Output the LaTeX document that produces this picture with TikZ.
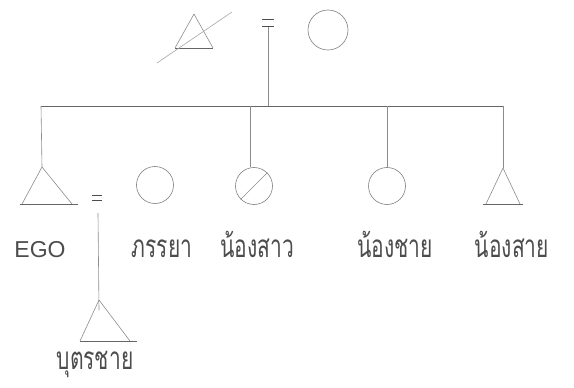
\documentclass[tikz,border=0pt]{standalone}
\usepackage{fontspec}
\newfontfamily\thaifont[Script=Thai]{Loma}
\setmainfont{Liberation Sans}
\newcommand{\tlab}[1]{\scalebox{1}[1.5]{\thaifont\fontsize{21}{24}\selectfont #1}}
\begin{document}
\begin{tikzpicture}[x=1pt,y=-1pt,
  ln/.style={draw=black!45,line width=0.6pt},
  bar/.style={draw=black!60,line width=0.9pt},
  base/.style={draw=black!60,line width=0.9pt},
  eqbar/.style={draw=black!70,line width=1.4pt},
  circ/.style={circle,draw=black!50,line width=0.6pt,minimum size=37pt,inner sep=0pt},
  lbl/.style={text=black!70,inner sep=0pt,anchor=base},
  eq/.style={inner sep=0pt,minimum width=12pt,minimum height=7pt}]
\useasboundingbox (0,0) rectangle (574,388);
% top generation
\coordinate (fa) at (194,14);
\draw[ln] (fa) -- ++(-19,34) coordinate (faL);
\draw[ln] (fa) -- ++(19,34) coordinate (faR);
\draw[base] (faL) -- (faR);
\coordinate (s1) at (157,63);
\coordinate (s2) at (232,12);
\draw[ln,draw=black!35] (s1) -- (s2);
\node[eq] (eqtop) at (268,23) {};
\draw[eqbar] (eqtop.north west) -- (eqtop.north east);
\draw[eqbar] (eqtop.south west) -- (eqtop.south east);
\node[circ,minimum size=40pt] (mo) at (328,30) {};
% sibling bar
\coordinate (j) at (268,106);
\coordinate (bl) at (41,106);
\coordinate (br) at (503,106);
\draw[ln] (eqtop.south) -- (j);
\draw[bar] (bl) -- (br);
% EGO
\coordinate (ego) at (42,167);
\draw[ln] (bl) -- (ego);
\draw[ln] (ego) -- ++(-20,37) coordinate (egoL);
\draw[ln] (ego) -- ++(30,37) coordinate (egoR);
\draw[base] ([xshift=-2pt]egoL) -- ([xshift=6pt]egoR);
% wife
\node[circ] (wife) at (155,185) {};
\node[eq,minimum width=9pt,minimum height=5pt] (eqego) at (97,198) {};
\draw[eqbar,line width=1.2pt] (eqego.north west) -- (eqego.north east);
\draw[eqbar,line width=1.2pt] (eqego.south west) -- (eqego.south east);
% son
\coordinate (sonup) at (98,213);
\coordinate (son) at (99,300);
\draw[ln] (sonup) -- ([yshift=-10pt]son);
\draw[ln] (son) -- ++(-19,41) coordinate (sonL);
\draw[ln] (son) -- ++(31,41) coordinate (sonR);
\draw[base] (sonL) -- ([xshift=7pt]sonR);
% younger sister
\coordinate (b2) at (250,106);
\node[circ] (sis) at (254,186) {};
\draw[ln] (b2) -- (sis.north -| b2);
\draw[ln] (sis.225) -- (sis.45);
% brother
\coordinate (b3) at (387,106);
\node[circ] (bro) at (387,186) {};
\draw[ln] (b3) -- (bro.north);
% right triangle
\coordinate (rt) at (503,168);
\draw[ln] (br) -- (rt);
\draw[ln] (rt) -- ++(-17,36) coordinate (rtL);
\draw[ln] (rt) -- ++(17,36) coordinate (rtR);
\draw[base] ([xshift=-3pt]rtL) -- ([xshift=3pt]rtR);
% labels
\node[lbl,font=\fontsize{23}{26}\selectfont] (tego) at (40,257) {EGO};
\node[lbl] (twife) at (162,257) {\tlab{ภรรยา}};
\node[lbl] (tsis) at (257,257) {\tlab{น้องสาว}};
\node[lbl] (tbro) at (395,257) {\tlab{น้องชาย}};
\node[lbl] (trt) at (512,257) {\tlab{น้องสาย}};
\node[lbl] (tson) at (95,369) {\tlab{บุตรชาย}};
\end{tikzpicture}
\end{document}
